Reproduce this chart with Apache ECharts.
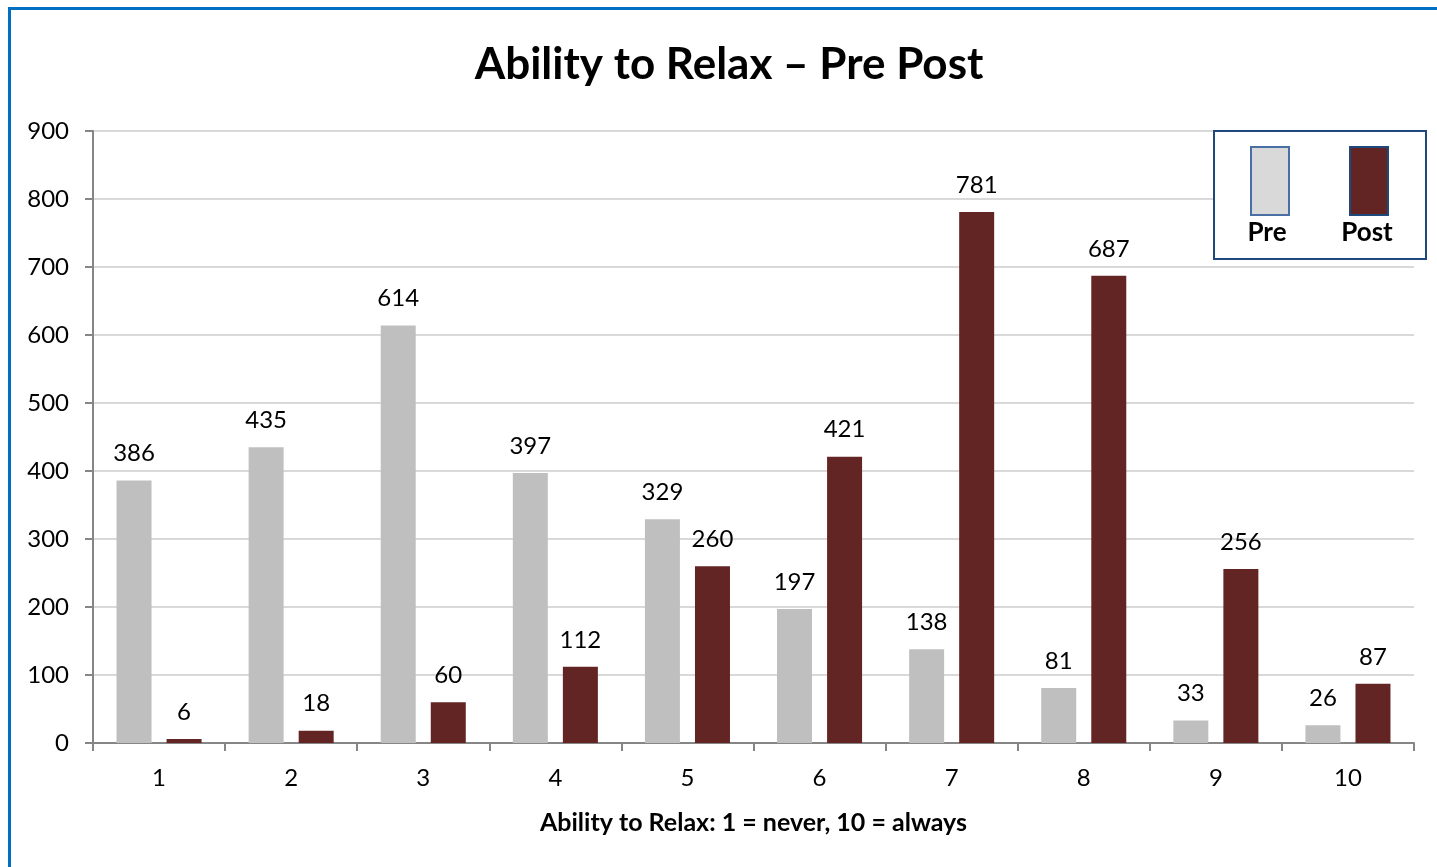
<!DOCTYPE html>
<html>
<head>
<meta charset="utf-8">
<script src="https://cdn.jsdelivr.net/npm/echarts@6/dist/echarts.min.js"></script>
<style>
  html, body { margin: 0; padding: 0; background: #ffffff; }
  #chart { width: 1437px; height: 867px; }
</style>
</head>
<body>
<div id="chart"></div>
<script>
// Ability ratings (1 = never, 10 = always) and respondent counts
const categories = ['1', '2', '3', '4', '5', '6', '7', '8', '9', '10'];
const preValues  = [386, 435, 614, 397, 329, 197, 138, 81, 33, 26];
const postValues = [6, 18, 60, 112, 260, 421, 781, 687, 256, 87];
const seriesNames = ['Pre', 'Post'];
const yTicks = [0, 100, 200, 300, 400, 500, 600, 700, 800, 900];

const FONT = 'Lato, "Open Sans", sans-serif';
const PRE_COLOR = '#bfbfbf';
const POST_COLOR = '#632523';
const LEGEND_BORDER = '#1f497d';

const chart = echarts.init(document.getElementById('chart'), null, { renderer: 'canvas' });

const labelStyle = {
  show: true,
  position: 'top',
  distance: 15,
  color: '#000',
  fontFamily: FONT,
  fontSize: 24
};

// Legend box: two tall swatches with names underneath
const lgX = 1214, lgY = 131, lgW = 212, lgH = 128;
const legendGraphics = [
  { type: 'rect', shape: { x: lgX, y: lgY, width: lgW, height: lgH },
    style: { fill: '#fff', stroke: LEGEND_BORDER, lineWidth: 2 }, z: 10 },
  { type: 'rect', shape: { x: 1251, y: 147, width: 38, height: 68 },
    style: { fill: '#d9d9d9', stroke: '#4a6fa5', lineWidth: 2 }, z: 11 },
  { type: 'rect', shape: { x: 1350, y: 147, width: 38, height: 68 },
    style: { fill: POST_COLOR, stroke: LEGEND_BORDER, lineWidth: 2 }, z: 11 },
  { type: 'text', x: 1267, y: 233, z: 11,
    style: { text: seriesNames[0], fill: '#000', font: 'bold 26px ' + FONT, textAlign: 'center', textVerticalAlign: 'middle' } },
  { type: 'text', x: 1367, y: 233, z: 11,
    style: { text: seriesNames[1], fill: '#000', font: 'bold 26px ' + FONT, textAlign: 'center', textVerticalAlign: 'middle' } }
];

const option = {
  backgroundColor: '#ffffff',
  animation: false,
  title: {
    text: 'Ability to Relax \u2013 Pre Post',
    left: 724,
    textAlign: 'center',
    top: 38,
    textStyle: { fontFamily: FONT, fontWeight: 'bold', fontSize: 44, color: '#000' }
  },
  grid: { left: 93, right: 23, top: 131, bottom: 124, containLabel: false },
  xAxis: {
    type: 'category',
    data: categories,
    name: 'Ability to Relax: 1 = never, 10 = always',
    nameLocation: 'middle',
    nameGap: 67,
    nameTextStyle: { fontFamily: FONT, fontWeight: 'bold', fontSize: 25, color: '#000' },
    axisLine: { lineStyle: { color: '#868686', width: 2 } },
    axisTick: { show: true, alignWithLabel: false, length: 8, lineStyle: { color: '#868686', width: 2 } },
    axisLabel: { color: '#000', fontFamily: FONT, fontSize: 24, margin: 23 },
    splitLine: { show: false }
  },
  yAxis: {
    type: 'value',
    min: 0,
    max: 900,
    interval: 100,
    axisLine: { show: true, lineStyle: { color: '#868686', width: 2 } },
    axisTick: { show: true, inside: false, length: 8, lineStyle: { color: '#868686', width: 2 } },
    axisLabel: {
      color: '#000', fontFamily: FONT, fontSize: 24, margin: 24,
      formatter: v => (yTicks.includes(v) ? String(v) : '')
    },
    splitLine: { show: true, lineStyle: { color: '#d9d9d9', width: 2 } }
  },
  series: [
    {
      name: seriesNames[0],
      type: 'bar',
      data: preValues,
      barWidth: 35,
      barGap: '43%',
      itemStyle: { color: PRE_COLOR },
      label: labelStyle
    },
    {
      name: seriesNames[1],
      type: 'bar',
      data: postValues,
      barWidth: 35,
      barGap: '43%',
      itemStyle: { color: POST_COLOR },
      label: labelStyle
    }
  ],
  graphic: [
    { type: 'rect', shape: { x: 9.5, y: 8.5, width: 1440, height: 880 },
      style: { fill: 'none', stroke: '#0070c0', lineWidth: 3 }, z: 20, silent: true },
    ...legendGraphics
  ]
};

chart.setOption(option);
</script>
</body>
</html>
